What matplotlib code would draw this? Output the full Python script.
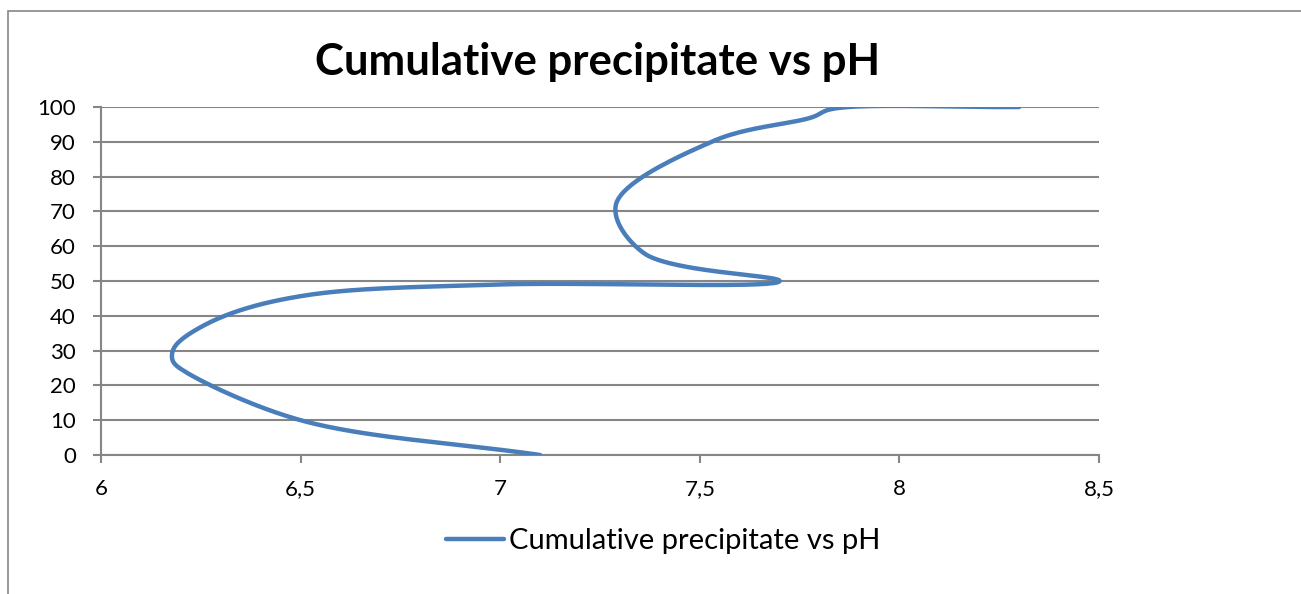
import numpy as np
import matplotlib
matplotlib.use("Agg")
import matplotlib.pyplot as plt
from matplotlib.patches import Rectangle

# datos
ph = [7.10, 6.50, 6.21, 6.18, 6.18, 6.20, 6.31, 6.52, 7.00, 7.70, 7.36, 7.29, 7.54, 7.78, 7.83, 8.30]
precip = [0, 10, 24, 27, 30, 33, 40, 46, 49, 50, 58, 72, 90.5, 97, 99.4, 100]

x_ticks = [6, 6.5, 7, 7.5, 8, 8.5]
x_labels = ["6", "6,5", "7", "7,5", "8", "8,5"]
y_ticks = list(range(0, 101, 10))

titulo = "Cumulative precipitate vs pH"
color_linea = "#4a7ebb"
gris = "#868686"

plt.rcParams["font.family"] = ["Lato", "DejaVu Sans"]


def suavizar(ax, xs, ys, n=40, alpha=0.5):
    # Catmull-Rom centripeta en espacio de pixeles (parecido al suavizado de Excel)
    pts = ax.transData.transform(np.column_stack([xs, ys]))
    ini = 2 * pts[0] - pts[1]
    fin = 2 * pts[-1] - pts[-2]
    p = np.vstack([ini, pts, fin])
    out = []
    for i in range(1, len(p) - 2):
        p0, p1, p2, p3 = p[i - 1], p[i], p[i + 1], p[i + 2]
        t0 = 0.0
        t1 = t0 + np.linalg.norm(p1 - p0) ** alpha
        t2 = t1 + np.linalg.norm(p2 - p1) ** alpha
        t3 = t2 + np.linalg.norm(p3 - p2) ** alpha
        t = np.linspace(t1, t2, n)[:, None]
        a1 = (t1 - t) / (t1 - t0) * p0 + (t - t0) / (t1 - t0) * p1
        a2 = (t2 - t) / (t2 - t1) * p1 + (t - t1) / (t2 - t1) * p2
        a3 = (t3 - t) / (t3 - t2) * p2 + (t - t2) / (t3 - t2) * p3
        b1 = (t2 - t) / (t2 - t0) * a1 + (t - t0) / (t2 - t0) * a2
        b2 = (t3 - t) / (t3 - t1) * a2 + (t - t1) / (t3 - t1) * a3
        c = (t2 - t) / (t2 - t1) * b1 + (t - t1) / (t2 - t1) * b2
        out.append(c)
    curva = np.vstack(out)
    return ax.transData.inverted().transform(curva)


fig = plt.figure(figsize=(13.01, 5.94), dpi=100)
fig.patches.append(Rectangle((8 / 1301, -0.1), 1.2, (594 - 11) / 594 + 0.1,
                             transform=fig.transFigure, fill=False,
                             edgecolor=gris, linewidth=1.2))

ax = fig.add_axes([101 / 1301, 139 / 594, 998 / 1301, 348 / 594])
ax.set_xlim(6, 8.5)
ax.set_ylim(0, 100)

curva = suavizar(ax, ph, precip)
ax.plot(curva[:, 0], curva[:, 1], color=color_linea, lw=3.2,
        solid_capstyle="round", solid_joinstyle="round", label=titulo, zorder=3)

ax.set_xticks(x_ticks)
ax.set_xticklabels(x_labels)
ax.set_yticks(y_ticks)
ax.grid(axis="y", color=gris, lw=1.5)
ax.set_axisbelow(True)
for lado in ["top", "right"]:
    ax.spines[lado].set_visible(False)
for lado in ["left", "bottom"]:
    ax.spines[lado].set_color(gris)
    ax.spines[lado].set_linewidth(1.5)
ax.tick_params(axis="both", direction="out", length=6, width=1.5, color=gris,
               labelsize=16, labelcolor="black")
ax.tick_params(axis="y", pad=12)
ax.tick_params(axis="x", pad=11)

fig.text(598 / 1301, 1 - 62 / 594, titulo, ha="center", va="center",
         fontsize=31.5, fontweight="bold")

ax.legend(loc="center", bbox_to_anchor=(663 / 1301, 1 - 541 / 594),
          bbox_transform=fig.transFigure, frameon=False, fontsize=21,
          handlelength=2.0, handletextpad=0.15)

plt.savefig("out.png", dpi=100)
